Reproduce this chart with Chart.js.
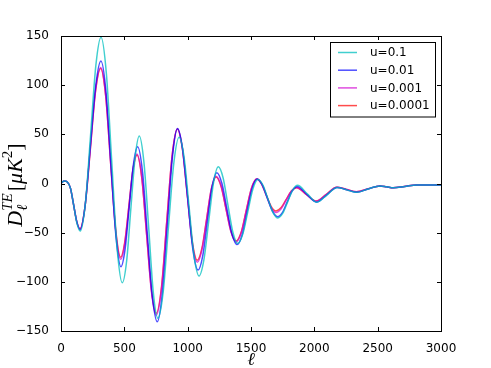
<!DOCTYPE html>
<html>
<head>
<meta charset="utf-8">
<script src="https://cdn.jsdelivr.net/npm/chart.js@4.4.1/dist/chart.umd.min.js"></script>
<style>
  html, body { margin: 0; padding: 0; background: #fff; }
  #wrap { width: 491px; height: 368px; }
</style>
</head>
<body>
<div id="wrap"><canvas id="teChart" width="491" height="368"></canvas></div>
<script>
/* TE power spectrum for four values of u. */

const seriesLabels = ["u=0.1", "u=0.01", "u=0.001", "u=0.0001"];
const seriesColors = ["rgba(0,191,191,0.75)", "rgba(0,0,255,0.7)", "rgba(210,0,210,0.7)", "rgba(255,0,0,0.7)"];

const ellCyan = [2, 25, 50, 75, 100, 125, 152, 193, 234, 275, 316, 358, 400, 442, 484, 518, 551, 585, 618, 655, 692, 728, 765, 807, 848, 890, 932, 972, 1011, 1050, 1090, 1128, 1166, 1204, 1242, 1280, 1318, 1357, 1395, 1435, 1475, 1515, 1555, 1594, 1633, 1673, 1712, 1751, 1790, 1829, 1868, 1944, 2020, 2100, 2180, 2257, 2335, 2425, 2520, 2572, 2625, 2715, 2810, 2900, 3000];
const teCyan = [0.5, 2.5, 1.5, -5, -22, -40, -48.3, -19.4, 50.2, 119.8, 148.7, 112.1, 23.85, -64.4, -101, -79.1, -26.35, 26.4, 48.3, 21.2, -44.35, -109.9, -137, -110, -45, 20, 47, 26.3, -23.5, -73.3, -94, -77.7, -38.5, 0.7, 17, 5.6, -22, -49.6, -61, -51.5, -28.5, -5.5, 4, -1.7, -15.5, -29.3, -35, -30.2, -18.45, -6.7, -1.9, -10.5, -19, -11.5, -4, -6.5, -9, -5.5, -2.5, -3.4, -4.3, -3, -1.5, -1.5, -1.5];

const ellBlue = [2, 25, 50, 75, 100, 125, 150, 191, 232, 274, 315, 355, 394, 434, 473, 506, 539, 572, 605, 644, 682, 721, 760, 800, 840, 880, 920, 960, 1001, 1041, 1082, 1119, 1156, 1193, 1230, 1270, 1310, 1350, 1390, 1430, 1469, 1509, 1548, 1588, 1629, 1669, 1710, 1749, 1787, 1826, 1865, 1941, 2018, 2099, 2180, 2257, 2335, 2425, 2520, 2572, 2625, 2715, 2810, 2900, 3000];
const teBlue = [0.5, 2.5, 1.5, -5, -22, -39, -47, -21.9, 38.8, 99.5, 124.6, 94, 20, -54, -84.6, -66.7, -23.6, 19.5, 37.4, 11.3, -51.6, -114.5, -140.6, -111.8, -42.3, 27.2, 56, 34.9, -16, -66.9, -88, -73.5, -38.5, -3.5, 11, 0.3, -25.5, -51.3, -62, -52.3, -28.75, -5.2, 4.5, -1.1, -14.65, -28.2, -33.8, -29.3, -18.4, -7.5, -3, -11, -19, -11.5, -4, -6.5, -9, -5.5, -2.5, -3.4, -4.3, -3, -1.5, -1.5, -1.5];

const ellMagenta = [2, 25, 50, 75, 100, 125, 150, 191, 232, 272, 313, 353, 392, 432, 471, 503, 536, 568, 600, 638, 676, 714, 752, 794, 835, 877, 918, 958, 997, 1036, 1076, 1113, 1150, 1187, 1224, 1264, 1303, 1343, 1382, 1423, 1463, 1504, 1545, 1583, 1621, 1659, 1697, 1738, 1778, 1819, 1860, 1936, 2013, 2095, 2176, 2255, 2333, 2425, 2518, 2570, 2620, 2710, 2808, 2900, 3000];
const teMagenta = [0.5, 2.5, 1.5, -5, -22, -39, -46, -22, 36, 94, 118, 89.4, 20.5, -48.4, -77, -61.3, -23.5, 14.3, 30, 6, -52, -110, -134, -106.2, -39.25, 27.7, 55.5, 35.7, -12.25, -60.2, -80, -67.2, -36.25, -5.3, 7.5, -2.3, -26, -49.7, -59.5, -50.1, -27.5, -4.9, 4.5, -0.5, -12.5, -24.5, -29.5, -25.8, -16.75, -7.7, -4, -11, -18, -11, -3.9, -6, -8.3, -5.4, -2.5, -3.4, -4.3, -3, -1.5, -1.5, -1.5];

const ellRed = ellMagenta;
const teRed = [0.5, 2.5, 1.5, -5, -22, -39, -46, -22.1, 35.5, 93.1, 117, 88.9, 21, -46.9, -75, -59.8, -23, 13.8, 29, 5.4, -51.5, -108.4, -132, -104.5, -38.3, 27.9, 55.4, 35.9, -11.3, -58.5, -78, -65.6, -35.7, -5.8, 6.6, -3, -26, -49, -58.5, -49.3, -27, -4.7, 4.5, -0.25, -11.75, -23.25, -28, -24.5, -16.1, -7.7, -4.2, -11, -17.8, -11, -3.9, -6, -8.3, -5.4, -2.5, -3.4, -4.3, -3, -1.5, -1.5, -1.5];

const xTicks = [0, 500, 1000, 1500, 2000, 2500, 3000];
const yTicks = [-150, -100, -50, 0, 50, 100, 150];

const TICK_FONT = "12px 'DejaVu Sans'";

function toPoints(xs, ys) {
  return xs.map((x, i) => ({ x: x, y: ys[i] }));
}

// frame + inward ticks on all four sides, like the matplotlib box
const frameTicks = {
  id: "frameTicks",
  afterDatasetsDraw(chart) {
    const { ctx, chartArea: a, scales } = chart;
    ctx.save();
    ctx.strokeStyle = "#000";
    ctx.lineWidth = 1;
    ctx.beginPath();
    xTicks.forEach((v) => {
      const px = Math.round(scales.x.getPixelForValue(v)) + 0.5;
      ctx.moveTo(px, a.bottom); ctx.lineTo(px, a.bottom - 4);
      ctx.moveTo(px, a.top); ctx.lineTo(px, a.top + 4);
    });
    yTicks.forEach((v) => {
      const py = Math.round(scales.y.getPixelForValue(v)) + 0.5;
      ctx.moveTo(a.left, py); ctx.lineTo(a.left + 4, py);
      ctx.moveTo(a.right, py); ctx.lineTo(a.right - 4, py);
    });
    ctx.stroke();
    ctx.strokeRect(Math.round(a.left) + 0.5, Math.round(a.top) + 0.5, Math.round(a.right - a.left), Math.round(a.bottom - a.top));
    ctx.restore();
  }
};

// legend box in the upper right corner of the axes
const boxLegend = {
  id: "boxLegend",
  afterDraw(chart) {
    const ctx = chart.ctx;
    ctx.save();
    ctx.fillStyle = "#fff";
    ctx.fillRect(331, 43, 104, 74);
    ctx.strokeStyle = "#000";
    ctx.lineWidth = 1;
    ctx.strokeRect(330.5, 42.5, 105, 74.5);
    chart.data.datasets.forEach((ds, i) => {
      const y = 52.5 + i * 17.7;
      ctx.strokeStyle = ds.borderColor;
      ctx.lineWidth = 1.5;
      ctx.beginPath();
      ctx.moveTo(338, y); ctx.lineTo(357, y);
      ctx.stroke();
      ctx.fillStyle = "#000";
      ctx.font = TICK_FONT;
      ctx.textBaseline = "middle";
      ctx.textAlign = "left";
      ctx.fillText(ds.label, 370, y + 0.5);
    });
    ctx.restore();
  }
};

// axis titles written as small pieces of math text
const axisTitles = {
  id: "axisTitles",
  afterDraw(chart) {
    const ctx = chart.ctx;
    const big = "22px 'Liberation Serif'";
    const bigIt = "italic 22px 'Liberation Serif'";
    const small = "15px 'Liberation Serif'";
    const smallIt = "italic 15px 'Liberation Serif'";
    const parts = [
      { t: "D", font: bigIt, dy: 0 },
      { stack: [{ t: "TE", font: smallIt, dy: -10 }, { t: "\u2113", font: smallIt, dy: 5 }] },
      { t: "[", font: big, dy: 0, pad: 2 },
      { t: "\u03bc", font: bigIt, dy: 0 },
      { t: "K", font: bigIt, dy: 0 },
      { t: "2", font: small, dy: -10 },
      { t: "]", font: big, dy: 0 }
    ];
    ctx.save();
    const widthOf = (p) => {
      if (p.stack) return Math.max(...p.stack.map(widthOf));
      ctx.font = p.font;
      return ctx.measureText(p.t).width + (p.pad || 0);
    };
    const total = parts.reduce((s, p) => s + widthOf(p), 0);
    ctx.translate(22, 185);
    ctx.rotate(-Math.PI / 2);
    ctx.fillStyle = "#000";
    ctx.textBaseline = "alphabetic";
    ctx.textAlign = "left";
    let x = -total / 2;
    parts.forEach((p) => {
      const items = p.stack || [p];
      items.forEach((q) => {
        ctx.font = q.font;
        ctx.fillText(q.t, x + (q.pad || 0), q.dy);
      });
      x += widthOf(p);
    });
    ctx.restore();

    ctx.save();
    ctx.fillStyle = "#000";
    ctx.font = "italic 18px 'DejaVu Serif'";
    ctx.textAlign = "center";
    ctx.textBaseline = "alphabetic";
    ctx.fillText("\u2113", 251, 365);
    ctx.restore();
  }
};

const allEll = [ellCyan, ellBlue, ellMagenta, ellRed];
const allTe = [teCyan, teBlue, teMagenta, teRed];

new Chart(document.getElementById("teChart"), {
  type: "line",
  data: {
    datasets: seriesLabels.map((label, i) => ({
      label: label,
      data: toPoints(allEll[i], allTe[i]),
      borderColor: seriesColors[i],
      borderWidth: 1.5,
      pointRadius: 0,
      fill: false,
      cubicInterpolationMode: "monotone"
    }))
  },
  options: {
    responsive: false,
    animation: false,
    devicePixelRatio: 1,
    layout: { padding: { left: 0, right: 50, top: 36, bottom: 0 } },
    plugins: { legend: { display: false }, tooltip: { enabled: false } },
    scales: {
      x: {
        type: "linear",
        min: 0,
        max: 3000,
        grid: { display: false },
        border: { display: false },
        afterBuildTicks: (s) => { s.ticks = xTicks.map((v) => ({ value: v })); },
        afterFit: (s) => { s.height = 37; },
        ticks: { color: "#000", font: { family: "DejaVu Sans", size: 12 }, padding: 3, maxRotation: 0, callback: (v) => String(v) }
      },
      y: {
        type: "linear",
        min: -150,
        max: 150,
        grid: { display: false },
        border: { display: false },
        afterBuildTicks: (s) => { s.ticks = yTicks.map((v) => ({ value: v })); },
        afterFit: (s) => { s.width = 61; },
        ticks: { color: "#000", font: { family: "DejaVu Sans", size: 12 }, padding: 4, callback: (v) => (v < 0 ? "\u2212" + Math.abs(v) : String(v)) }
      }
    }
  },
  plugins: [frameTicks, boxLegend, axisTitles]
});
</script>
</body>
</html>
